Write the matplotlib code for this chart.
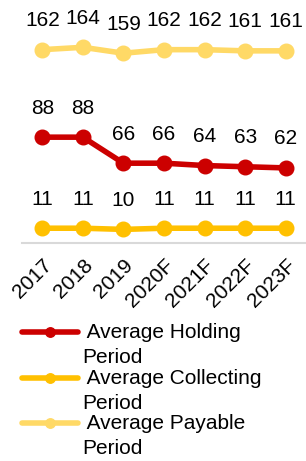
import matplotlib
matplotlib.use('Agg')
import matplotlib.pyplot as plt
from matplotlib.legend_handler import HandlerLine2D
import numpy as np

plt.rcParams['font.family'] = ['Liberation Sans', 'DejaVu Sans']

# Data
years = ['2017', '2018', '2019', '2020F', '2021F', '2022F', '2023F']
holding = [88, 88, 66, 66, 64, 63, 62]
collecting = [11, 11, 10, 11, 11, 11, 11]
payable = [162, 164, 159, 162, 162, 161, 161]

series = [
    (' Average Holding\nPeriod', holding, '#CC0000'),
    (' Average Collecting\nPeriod', collecting, '#FFC000'),
    (' Average Payable\nPeriod', payable, '#FFD966'),
]

fs = 15
x = np.arange(len(years))


class TopLineHandler(HandlerLine2D):
    # put the legend line next to the first text line instead of the middle
    def create_artists(self, legend, orig_handle, xdescent, ydescent,
                       width, height, fontsize, trans):
        return super().create_artists(legend, orig_handle, xdescent, ydescent - 19,
                                      width, height, fontsize, trans)


fig = plt.figure(figsize=(3.06, 4.61), dpi=100)
ax = fig.add_axes([22 / 306, 218 / 461, 284 / 306, 243 / 461])

lines = []
for label, vals, color in series:
    ln, = ax.plot(x, vals, color=color, lw=4, marker='o', ms=10.5, label=label,
                  solid_capstyle='round', clip_on=False)
    lines.append(ln)
    for xi, v in zip(x, vals):
        ax.annotate(str(v), (xi, v), xytext=(0, 29), textcoords='offset pixels',
                    ha='center', va='center', fontsize=fs, color='black')

ax.set_xlim(-0.5, 6.5)
ax.set_ylim(-1.5, 204)
ax.set_xticks(x)
ax.set_xticklabels(years, rotation=45, ha='right', rotation_mode='anchor', fontsize=fs)
ax.tick_params(axis='x', length=0, pad=9)
ax.set_yticks([])
for s in ['top', 'right', 'left']:
    ax.spines[s].set_visible(False)
ax.spines['bottom'].set_color('#D9D9D9')
ax.spines['bottom'].set_linewidth(1.5)

leg = fig.legend(handles=lines, loc='upper left', bbox_to_anchor=(22 / 306, 1 - 323 / 461),
                 frameon=False, fontsize=fs, handlelength=2.7, handletextpad=0.2,
                 labelspacing=0.08, markerscale=0.65, borderpad=0, borderaxespad=0,
                 handler_map={ln: TopLineHandler() for ln in lines})
for t in leg.get_texts():
    t.set_linespacing(1.4)

fig.savefig('out.png', dpi=100)
